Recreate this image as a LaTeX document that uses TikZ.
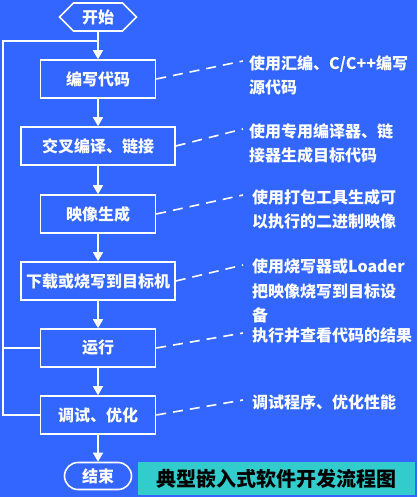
\documentclass[tikz,border=0pt]{standalone}
\usepackage{fontspec}
\newfontfamily\cjk{Noto Sans CJK SC}
\usetikzlibrary{shapes.symbols,shapes.misc,arrows.meta}
\definecolor{bgblue}{RGB}{51,102,255}
\definecolor{capteal}{RGB}{51,204,204}

\begin{document}
\begin{tikzpicture}[x=1pt,y=-1pt,
  every node/.style={font=\cjk\bfseries\fontsize{16}{24.5}\selectfont,text=white},
  stepbox/.style={draw=white,line width=1.6pt,minimum height=38pt,inner sep=0pt},
  note/.style={anchor=north west,align=left,inner sep=0pt},
  wire/.style={white,line width=1.6pt},
  flow/.style={wire,-{Triangle[width=10pt,length=9pt]}},
  link/.style={white,line width=1.6pt,dash pattern=on 10pt off 7pt}]
  \fill[bgblue] (0,0) rectangle (417,497);
  \useasboundingbox (0,0) rectangle (417,497);
  % flow of steps
  \node[signal,signal to=west and east,draw=white,line width=1.6pt,
        minimum width=77pt,minimum height=28pt,inner sep=0pt] (start) at (98,17) {开始};
  \node[stepbox,minimum width=115pt] (code) at (98,79) {编写代码};
  \node[stepbox,minimum width=154pt] (build) at (98,146) {交叉编译、链接};
  \node[stepbox,minimum width=115pt] (image) at (98,214) {映像生成};
  \node[stepbox,minimum width=154pt] (load) at (98,281) {下载或烧写到目标机};
  \node[stepbox,minimum width=115pt] (run) at (98,348) {运行};
  \node[stepbox,minimum width=115pt] (debug) at (98,415) {调试、优化};
  \node[rounded rectangle,draw=white,line width=1.6pt,
        minimum width=67pt,minimum height=27pt,inner sep=0pt] (stop) at (98,476) {结束};
  \draw[flow] (start) -- (code);
  \draw[flow] (code) -- (build);
  \draw[flow] (build) -- (image);
  \draw[flow] (image) -- (load);
  \draw[flow] (load) -- (run);
  \draw[flow] (run) -- (debug);
  \draw[flow] (debug) -- (stop);
  % loop back
  \coordinate (loop) at (3,41);
  \coordinate (join) at (98,41);
  \draw[wire] (debug.west) -| (loop) -- (join);
  \draw[wire] (run.west) -- (run.west -| loop);
  % notes
  \node[note] (t1) at (249,55) {使用汇编、C/C++编写\\源代码};
  \node[note] (t2) at (249,123) {使用专用编译器、链\\接器生成目标代码};
  \node[note] (t3) at (252,189) {使用打包工具生成可\\以执行的二进制映像};
  \node[note] (t4) at (252,259) {使用烧写器或Loader\\把映像烧写到目标设\\备};
  \node[note] (t5) at (252,327) {执行并查看代码的结果};
  \node[note] (t6) at (252,394) {调试程序、优化性能};
  \draw[link] (code.east) -- ([xshift=-6pt,yshift=-6pt]t1.north west);
  \draw[link] (build.east) -- ([xshift=-6pt,yshift=-6pt]t2.north west);
  \draw[link] (image.east) -- ([xshift=-9pt,yshift=-6pt]t3.north west);
  \draw[link] (load.east) -- ([xshift=-9pt,yshift=-6pt]t4.north west);
  \draw[link] (run.east) -- ([xshift=-9pt,yshift=-6pt]t5.north west);
  \draw[link] (debug.east) -- ([xshift=-9pt,yshift=-6pt]t6.north west);
  % caption
  \node[fill=capteal,text=black,minimum width=277pt,minimum height=33pt,
        font=\cjk\bfseries\fontsize{20}{22}\selectfont] (caption) at (276.5,478.5) {典型嵌入式软件开发流程图};
\end{tikzpicture}
\end{document}
